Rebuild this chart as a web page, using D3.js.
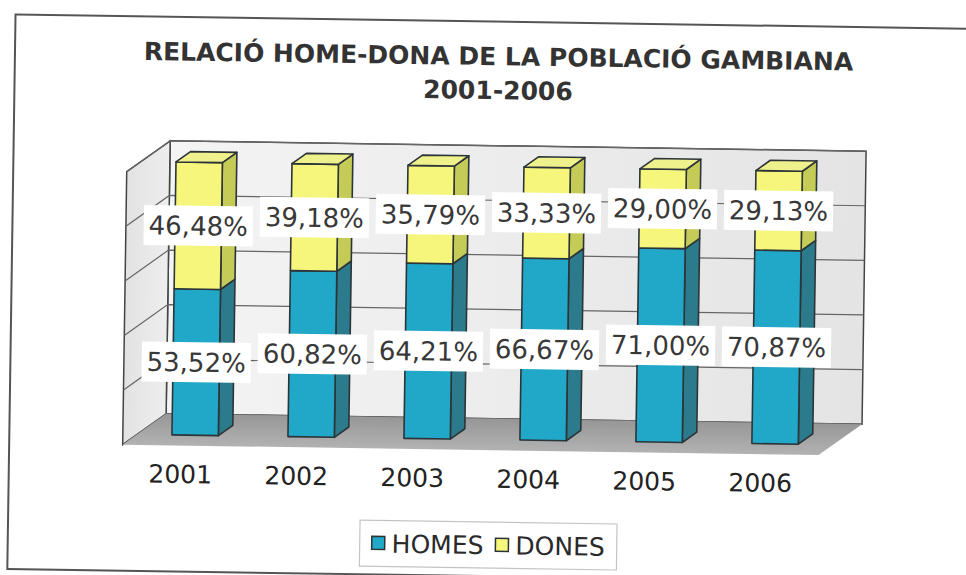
<!DOCTYPE html>
<html>
<head>
<meta charset="utf-8">
<script src="https://cdn.jsdelivr.net/npm/d3@7"></script>
<style>
body { margin: 0; background: #fff; }
svg { display: block; }
</style>
</head>
<body>
<svg width="966" height="575"></svg>
<script>
const years = ['2001', '2002', '2003', '2004', '2005', '2006'];
const homes = [53.52, 60.82, 64.21, 66.67, 71.00, 70.87];
const dones = [46.48, 39.18, 35.79, 33.33, 29.00, 29.13];
const seriesNames = ['HOMES', 'DONES'];
const gridTicks = [0, 20, 40, 60, 80, 100];
const titleLines = ['RELACIÓ HOME-DONA DE LA POBLACIÓ GAMBIANA', '2001-2006'];

const table = years.map((yr, i) => ({year: yr, HOMES: homes[i], DONES: dones[i]}));
const stacked = d3.stack().keys(seriesNames)(table);

const colors = {
  HOMES: {front: '#21a7c7', side: '#2b7b8c', top: '#4fbfd6'},
  DONES: {front: '#f6f67c', side: '#c5cb57', top: '#eff18c'}
};

const locale = d3.formatLocale({decimal: ',', thousands: '.', grouping: [3], currency: ['', '']});
const fmt = v => locale.format('.2f')(v) + '%';

const svg = d3.select('svg');
const defs = svg.append('defs');

// the scan is a little tilted
const page = svg.append('g').attr('transform', 'rotate(0.85, 483, 290)');

// outer frame
page.append('rect')
  .attr('x', 11.5).attr('y', 21.5)
  .attr('width', 980).attr('height', 554.5)
  .attr('fill', '#fff')
  .attr('stroke', '#555').attr('stroke-width', 2);

// 3d box: depth vector from front plane to back wall
const DX = 43, DY = -31.5;
const d1 = 1 / 3, d2 = 2 / 3;

const x = d3.scaleBand().domain(years).range([125, 821]).paddingInner(0.6).paddingOuter(0.3);
const y = d3.scaleLinear().domain([0, 100]).range([450, 177]);
const bw = x.bandwidth();
const [x0, x1] = x.range();

const pt = (px, py, d) => [px + d * DX, py + d * DY];
const poly = pts => 'M' + pts.map(p => p.join(',')).join('L') + 'Z';

const grad = (id, c1, c2, vertical) => {
  const g = defs.append('linearGradient').attr('id', id)
    .attr('x1', 0).attr('y1', 0).attr('x2', vertical ? 0 : 1).attr('y2', vertical ? 1 : 0);
  g.append('stop').attr('offset', '0%').attr('stop-color', c1);
  g.append('stop').attr('offset', '100%').attr('stop-color', c2);
};
grad('backWall', '#f4f4f4', '#e4e4e4', false);
grad('sideWall', '#e2e2e2', '#eeeeee', false);
grad('floor', '#979797', '#b2b2b2', true);

const box = page.append('g');

// back wall
box.append('path')
  .attr('d', poly([pt(x0, y(0), 1), pt(x1, y(0), 1), pt(x1, y(100), 1), pt(x0, y(100), 1)]))
  .attr('fill', 'url(#backWall)')
  .attr('stroke', '#444').attr('stroke-width', 1.5);

// left wall
box.append('path')
  .attr('d', poly([pt(x0, y(0), 0), pt(x0, y(0), 1), pt(x0, y(100), 1), pt(x0, y(100), 0)]))
  .attr('fill', 'url(#sideWall)')
  .attr('stroke', '#444').attr('stroke-width', 1.5);

// gridlines
box.selectAll('.grid').data(gridTicks)
  .enter().append('path')
  .attr('class', 'grid')
  .attr('d', t => 'M' + [pt(x0, y(t), 0), pt(x0, y(t), 1), pt(x1, y(t), 1)].map(p => p.join(',')).join('L'))
  .attr('fill', 'none')
  .attr('stroke', '#666').attr('stroke-width', 1.2);

// floor
box.append('path')
  .attr('d', poly([pt(x0, y(0), 0), pt(x1, y(0), 0), pt(x1, y(0), 1), pt(x0, y(0), 1)]))
  .attr('fill', 'url(#floor)');

// bars
const bars = page.append('g');
stacked.forEach(layer => {
  const c = colors[layer.key];
  const isTop = layer.index === stacked.length - 1;
  const g = bars.append('g').attr('class', 'layer-' + layer.key);
  layer.forEach(d => {
    const bx = x(d.data.year);
    const yb = y(d[0]), yt = y(d[1]);
    // right side
    g.append('path')
      .attr('d', poly([pt(bx + bw, yt, d1), pt(bx + bw, yt, d2), pt(bx + bw, yb, d2), pt(bx + bw, yb, d1)]))
      .attr('fill', c.side).attr('stroke', '#2c3438').attr('stroke-width', 1.6).attr('stroke-linejoin', 'round');
    // front
    g.append('path')
      .attr('d', poly([pt(bx, yt, d1), pt(bx + bw, yt, d1), pt(bx + bw, yb, d1), pt(bx, yb, d1)]))
      .attr('fill', c.front).attr('stroke', '#2c3438').attr('stroke-width', 1.6).attr('stroke-linejoin', 'round');
    if (isTop) {
      g.append('path')
        .attr('d', poly([pt(bx, yt, d1), pt(bx, yt, d2), pt(bx + bw, yt, d2), pt(bx + bw, yt, d1)]))
        .attr('fill', c.top).attr('stroke', '#2c3438').attr('stroke-width', 1.6).attr('stroke-linejoin', 'round');
    }
  });
});

// value labels
const labels = page.append('g')
  .style('font-family', '"DejaVu Sans", Verdana, sans-serif')
  .style('font-size', '26px');
stacked.forEach(layer => {
  layer.forEach(d => {
    const [cx, cy] = pt(x(d.data.year) + bw / 2, (y(d[0]) + y(d[1])) / 2, d1);
    const lg = labels.append('g');
    const rect = lg.append('rect').attr('fill', '#fff');
    const t = lg.append('text')
      .attr('x', cx).attr('y', cy).attr('dy', '0.36em')
      .attr('text-anchor', 'middle')
      .attr('fill', '#383838')
      .text(fmt(d[1] - d[0]));
    const w = t.node().getComputedTextLength() + 10;
    rect.attr('x', cx - w / 2).attr('y', cy - 20).attr('width', w).attr('height', 40);
  });
});

// category labels
page.append('g')
  .selectAll('text').data(years)
  .enter().append('text')
  .attr('x', d => x(d) + bw / 2)
  .attr('y', 487.5)
  .attr('text-anchor', 'middle')
  .style('font-family', '"DejaVu Sans", Verdana, sans-serif')
  .style('font-size', '25px')
  .attr('fill', '#222')
  .text(d => d);

// title
page.append('g')
  .selectAll('text').data(titleLines)
  .enter().append('text')
  .attr('x', 495)
  .attr('y', (d, i) => 65 + i * 34)
  .attr('text-anchor', 'middle')
  .style('font-family', '"DejaVu Sans", Verdana, sans-serif')
  .style('font-weight', 'bold')
  .style('font-size', '25px')
  .attr('fill', '#333')
  .text(d => d);

// legend
const legend = page.append('g');
const legBox = legend.append('rect')
  .attr('fill', '#fff').attr('stroke', '#c4c4c4').attr('stroke-width', 1.2);
let lx = 0;
const items = legend.append('g');
seriesNames.forEach((name, i) => {
  items.append('rect')
    .attr('x', lx).attr('y', -7).attr('width', 13).attr('height', 13)
    .attr('fill', colors[name].front)
    .attr('stroke', '#2c3438').attr('stroke-width', 1.5);
  const t = items.append('text')
    .attr('x', lx + 20).attr('y', 0).attr('dy', '0.36em')
    .style('font-family', '"DejaVu Sans", Verdana, sans-serif')
    .style('font-size', '25px')
    .attr('fill', '#2a2a2a')
    .text(name);
  lx += 20 + t.node().getComputedTextLength() + 12;
});
const legW = lx - 12;
const legCx = 492, legCy = 545;
items.attr('transform', `translate(${legCx - legW / 2}, ${legCy})`);
legBox.attr('x', legCx - legW / 2 - 12).attr('y', legCy - 23)
  .attr('width', legW + 24).attr('height', 46);
</script>
</body>
</html>
